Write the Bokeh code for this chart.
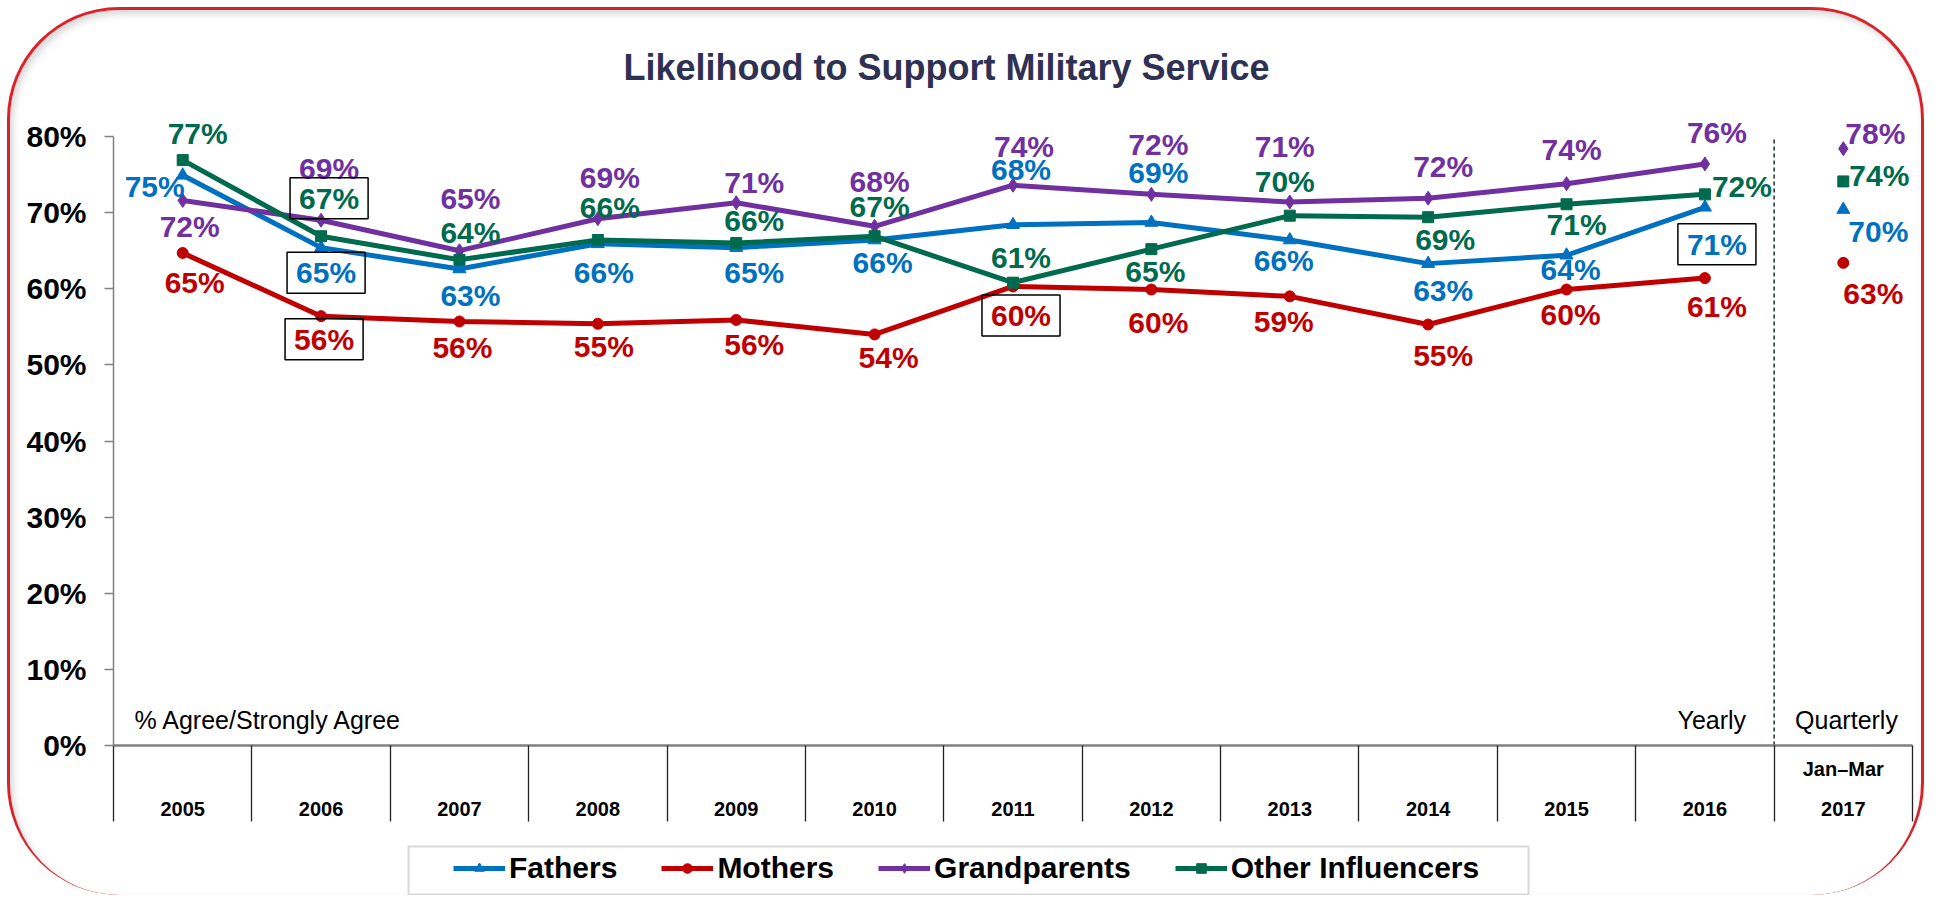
from bokeh.plotting import figure
from bokeh.models import (Range1d, FixedTicker, PrintfTickFormatter, Label, Legend,
                          LegendItem, BoxAnnotation)
from bokeh.embed import file_html
from bokeh.resources import INLINE

# ---------------- data ----------------
years = ["2005", "2006", "2007", "2008", "2009", "2010", "2011", "2012",
         "2013", "2014", "2015", "2016"]
quarter_year = "2017"
quarter_period = "Jan–Mar"
y_ticks = [0, 10, 20, 30, 40, 50, 60, 70, 80]

fathers = [74.9, 65.4, 62.6, 65.9, 65.4, 66.4, 68.4, 68.7, 66.4, 63.3, 64.4, 70.7]
mothers = [64.7, 56.4, 55.7, 55.4, 55.9, 54.0, 60.3, 59.9, 59.0, 55.3, 59.9, 61.4]
grandparents = [71.6, 69.0, 65.0, 69.2, 71.3, 68.2, 73.6, 72.4, 71.4, 71.9, 73.8, 76.4]
other_influencers = [76.9, 66.9, 63.8, 66.4, 66.0, 66.9, 60.8, 65.2, 69.6, 69.4, 71.1, 72.4]

fathers_q = 70.4
mothers_q = 63.4
grandparents_q = 78.4
other_influencers_q = 74.1

# ---------------- styles / layout ----------------
FONT = "Liberation Sans"
BLUE, RED, PURPLE, GREEN = "#0070C0", "#C00000", "#7030A0", "#006A4E"

W, H = 1917, 888                 # canvas size (whole canvas is the frame)
PX_X = 1799 / 13.0               # pixels per category
PX_Y = 609 / 80.0                # pixels per percent
LEFT_PAD, RIGHT_PAD = 103, 15    # canvas px left of first / right of last category edge
TOP_PAD, BOTTOM_PAD = 126, 153   # canvas px above 80% / below 0%

# label offsets (dx right, dy down) in pixels, last one = quarterly point
off_f = [(-28, 13), (5, 27), (11, 29), (6, 31), (18, 27), (8, 24), (8, -53), (7, -48),
         (-6, 22), (15, 29), (4, 16), (12, 39), (35, 24)]
off_m = [(12, 32), (3, 25), (3, 28), (6, 25), (18, 27), (14, 25), (8, 31), (7, 35),
         (-6, 27), (15, 33), (4, 27), (12, 30), (30, 33)]
off_g = [(7, 28), (8, -50), (11, -50), (12, -39), (18, -18), (5, -43), (11, -37), (7, -48),
         (-5, -53), (15, -30), (5, -32), (12, -29), (32, -13)]
off_o = [(15, -25), (8, -36), (11, -25), (12, -31), (18, -21), (5, -28), (8, -23), (4, 24),
         (-5, -32), (17, 24), (10, 22), (37, -6), (36, -4)]
BASE_CORR = 2

series = [
    ("Fathers", fathers, fathers_q, BLUE, "triangle", 13, off_f, {1, 11}),
    ("Mothers", mothers, mothers_q, RED, "circle", 11, off_m, {1, 6}),
    ("Grandparents", grandparents, grandparents_q, PURPLE, "diamond", 14, off_g, set()),
    ("Other Influencers", other_influencers, other_influencers_q, GREEN, "square", 11, off_o, {1}),
]

xs = list(range(1, len(years) + 1))
xq = len(years) + 1
x_lo, x_hi = 0.5, xq + 0.5

x_range = Range1d(x_lo - LEFT_PAD / PX_X, x_hi + RIGHT_PAD / PX_X)
y_range = Range1d(y_ticks[0] - BOTTOM_PAD / PX_Y, y_ticks[-1] + TOP_PAD / PX_Y)

p = figure(width=W, height=H, x_range=x_range, y_range=y_range,
           output_backend="svg", toolbar_location=None, tools="",
           min_border=0, min_border_left=0, min_border_right=0,
           min_border_top=0, min_border_bottom=0)
p.title.visible = False
p.xgrid.visible = False
p.ygrid.visible = False
p.outline_line_color = None
p.background_fill_color = None
p.border_fill_color = None
p.styles = {
    "margin-left": "7px",
    "margin-top": "7px",
    "border": "3px solid #D8232A",
    "border-bottom-width": "0px",
    "border-radius": "112px",
    "box-shadow": "inset 3px 4px 7px rgba(0,0,0,0.16)",
}

# x axis (drawn at 0%)
xa = p.xaxis[0]
xa.fixed_location = 0
xa.bounds = (x_lo, x_hi)
xa.ticker = FixedTicker(ticks=xs + [xq], minor_ticks=[i + 0.5 for i in range(0, xq + 1)])
overrides = {x: "\n" + y for x, y in zip(xs, years)}
overrides[xq] = quarter_period + "\n" + quarter_year
xa.major_label_overrides = overrides
xa.major_tick_out = 0
xa.major_tick_in = 0
xa.minor_tick_out = 76
xa.minor_tick_in = 0
xa.minor_tick_line_color = "#222222"
xa.minor_tick_line_width = 1.3
xa.axis_line_color = "#808080"
xa.axis_line_width = 2.5
xa.major_label_text_font = FONT
xa.major_label_text_font_size = "20px"
xa.major_label_text_font_style = "bold"
xa.major_label_text_color = "black"
xa.major_label_text_line_height = 1.85
xa.major_label_standoff = -64

# y axis (drawn at left category edge)
ya = p.yaxis[0]
ya.fixed_location = x_lo
ya.bounds = (y_ticks[0], y_ticks[-1])
ya.ticker = FixedTicker(ticks=y_ticks)
ya.formatter = PrintfTickFormatter(format="%d%%")
ya.major_tick_out = 9
ya.major_tick_in = 0
ya.minor_tick_out = 0
ya.minor_tick_in = 0
ya.axis_line_color = "#808080"
ya.axis_line_width = 1.5
ya.major_tick_line_color = "#808080"
ya.major_tick_line_width = 1.5
ya.major_label_text_font = FONT
ya.major_label_text_font_size = "30px"
ya.major_label_text_font_style = "bold"
ya.major_label_text_color = "black"
ya.major_label_standoff = 18

# yearly / quarterly separator
p.segment(x0=[xq - 0.5], y0=[y_ticks[0]], x1=[xq - 0.5], y1=[y_ticks[-1]],
          line_color="#1c2e2e", line_dash="4 3", line_width=1.5)

items = []
for name, vals, qv, color, marker, size, offs, boxed in series:
    lr = p.line(xs, vals, line_color=color, line_width=5)
    sr = p.scatter(xs, vals, marker=marker, size=size, fill_color=color, line_color=color)
    p.scatter([xq], [qv], marker=marker, size=size, fill_color=color, line_color=color)
    items.append(LegendItem(label=name, renderers=[lr, sr]))
    allx = xs + [xq]
    allv = vals + [qv]
    for i, (x, v) in enumerate(zip(allx, allv)):
        dx, dy = offs[i]
        kw = {}
        if i in boxed:
            kw = dict(border_line_color="black", border_line_width=1.5, padding=(9, 4))
        p.add_layout(Label(x=x, y=v, x_offset=dx, y_offset=-dy + BASE_CORR,
                           text=f"{int(v + 0.5)}%",
                           text_align="center", text_baseline="middle",
                           text_font=FONT, text_font_size="30px", text_font_style="bold",
                           text_color=color, **kw))

# title and notes
p.add_layout(Label(x=936, y=831, x_units="screen", y_units="screen",
                   text="Likelihood to Support Military Service", text_align="center",
                   text_baseline="middle", text_font=FONT, text_font_size="36px",
                   text_font_style="bold", text_color="#2E3152"))
p.add_layout(Label(x=x_lo, y=y_ticks[0], x_offset=21, y_offset=26,
                   text="% Agree/Strongly Agree", text_align="left", text_baseline="middle",
                   text_font=FONT, text_font_size="25px", text_color="black"))
p.add_layout(Label(x=xq - 0.5, y=y_ticks[0], x_offset=-28, y_offset=26,
                   text="Yearly", text_align="right", text_baseline="middle",
                   text_font=FONT, text_font_size="25px", text_color="black"))
p.add_layout(Label(x=xq - 0.5, y=y_ticks[0], x_offset=21, y_offset=26,
                   text="Quarterly", text_align="left", text_baseline="middle",
                   text_font=FONT, text_font_size="25px", text_color="black"))

# legend box + legend
p.add_layout(BoxAnnotation(left=398, right=1518, top=52, bottom=4,
                           left_units="screen", right_units="screen",
                           top_units="screen", bottom_units="screen",
                           fill_color="white", fill_alpha=1.0,
                           line_color="#7f7f7f", line_width=2))
legend = Legend(items=items, orientation="horizontal", location=(443, 13),
                label_text_font=FONT, label_text_font_size="30px", label_text_font_style="bold",
                label_text_color="black", glyph_width=52, glyph_height=24, label_standoff=4,
                spacing=44, padding=7, margin=0, border_line_color=None,
                background_fill_alpha=0)
p.add_layout(legend)

open("out.html", "w").write(file_html(p, INLINE))
